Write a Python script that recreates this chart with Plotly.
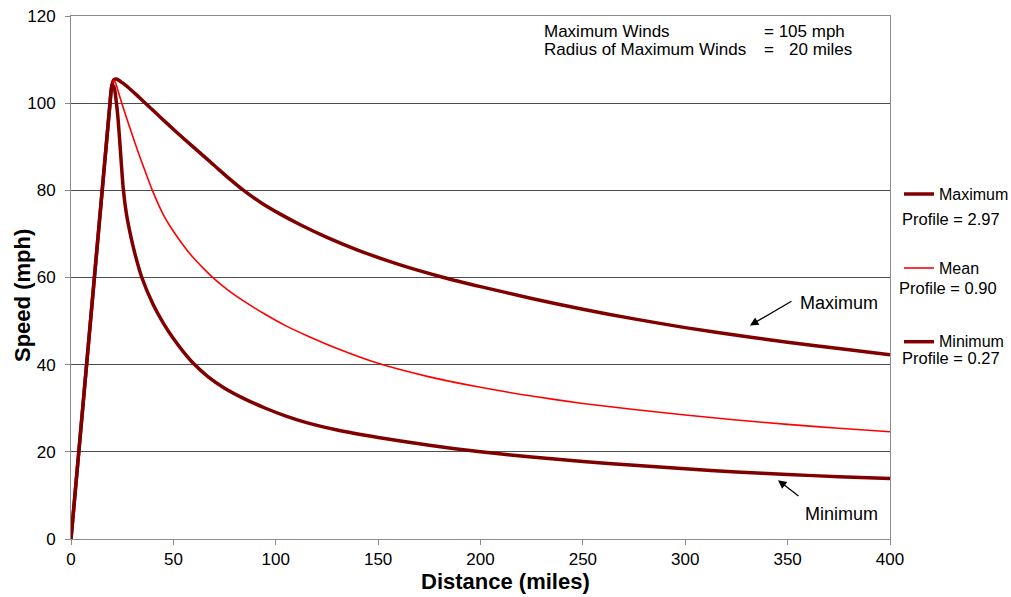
import plotly.graph_objects as go

# ---- data ----
max_dist = [0, 10, 18, 19, 20, 21, 22.5, 25, 28, 32, 37, 42, 47, 55, 63, 70, 77, 84, 93, 102, 112, 125, 140, 160, 182, 200, 225, 250, 275, 300, 332, 350, 375, 400]
max_speed = [0, 52.5, 94.5, 99.7, 104.2, 105.4, 105.5, 104.7, 103.6, 101.9, 99.7, 97.5, 95.3, 91.9, 88.6, 85.7, 82.8, 80.1, 77.1, 74.6, 72.1, 69.2, 66.3, 63.0, 60.0, 57.9, 55.2, 52.7, 50.5, 48.5, 46.3, 45.15, 43.7, 42.3]

mean_dist = [0, 10, 18, 19, 20, 21, 22, 23, 25, 28, 31, 34, 37, 40, 45, 50, 55, 60, 69, 77, 85, 95, 105, 115, 130, 150, 175, 200, 225, 250, 275, 300, 325, 350, 375, 400]
mean_speed = [0, 52.5, 94.5, 99.7, 104.2, 105.2, 104.4, 102.8, 99.7, 95.4, 91.2, 87.2, 83.4, 79.7, 74.5, 70.6, 67.3, 64.4, 60.1, 57.0, 54.4, 51.5, 48.9, 46.7, 43.7, 40.3, 37.2, 34.8, 32.8, 31.1, 29.7, 28.45, 27.3, 26.3, 25.4, 24.6]

min_dist = [0, 10, 18, 19, 20, 21, 22, 23, 24, 25.5, 27, 29, 31.3, 34.6, 40, 45, 50, 55, 60, 67, 75, 85, 95, 105, 115, 130, 150, 175, 200, 225, 250, 275, 300, 325, 350, 375, 400]
min_speed = [0, 52.5, 94.5, 99.7, 104.2, 103.8, 100.8, 96.3, 90.0, 80.5, 74.8, 69.9, 65.3, 60.0, 53.9, 49.6, 46.0, 42.9, 40.2, 37.2, 34.6, 32.1, 30.0, 28.2, 26.7, 25.0, 23.3, 21.5, 20.0, 18.8, 17.8, 16.9, 16.1, 15.4, 14.8, 14.3, 13.9]

x_ticks = [0, 50, 100, 150, 200, 250, 300, 350, 400]
y_ticks = [0, 20, 40, 60, 80, 100, 120]

legend_names = ["Maximum", "Mean", "Minimum"]
legend_profiles = ["Profile = 2.97", "Profile = 0.90", "Profile = 0.27"]

DARK = "#800000"
RED = "#ff0000"
FONT = "Arial, Liberation Sans, sans-serif"

# plot-area pixel geometry
W, H = 1011, 597
L, R, T, B = 71, 890, 16, 539


def px(xp):
    return (xp - L) / (R - L)


def py(yp):
    return (B - yp) / (B - T)


fig = go.Figure()
fig.add_trace(go.Scatter(x=max_dist, y=max_speed, mode="lines", name="Maximum",
                         line=dict(color=DARK, width=3.5, shape="spline", smoothing=0.6)))
fig.add_trace(go.Scatter(x=mean_dist, y=mean_speed, mode="lines", name="Mean",
                         line=dict(color=RED, width=1.6, shape="spline", smoothing=0.6)))
fig.add_trace(go.Scatter(x=min_dist, y=min_speed, mode="lines", name="Minimum",
                         line=dict(color=DARK, width=3.5, shape="spline", smoothing=0.6)))

fig.update_layout(
    width=W, height=H,
    margin=dict(l=L, r=W - R, t=T, b=H - B, pad=0, autoexpand=False),
    paper_bgcolor="white", plot_bgcolor="white",
    showlegend=False,
    font=dict(family=FONT, size=17, color="#000000"),
    xaxis=dict(range=[0, 400], tickvals=x_ticks, ticktext=[str(v) for v in x_ticks],
               showgrid=False, zeroline=False, showline=True, linecolor="#8c8c8c", linewidth=1,
               mirror=True, ticks="outside", ticklen=5, tickcolor="#8c8c8c", automargin=False,
               tickfont=dict(size=17, family=FONT, color="#000")),
    yaxis=dict(range=[0, 120], tickvals=y_ticks, ticktext=[str(v) for v in y_ticks],
               showgrid=True, gridcolor="#4d4d4d", gridwidth=1, zeroline=False,
               showline=True, linecolor="#8c8c8c", linewidth=1, mirror=True, automargin=False,
               ticks="outside", ticklen=5, tickcolor="#8c8c8c",
               tickfont=dict(size=17, family=FONT, color="#000"), ticklabelstandoff=6),
)

ann = []
# axis titles
ann.append(dict(text="<b>Distance (miles)</b>", x=px(505), y=py(581), xref="paper", yref="paper",
                showarrow=False, font=dict(size=22, family=FONT), xanchor="center", yanchor="middle"))
ann.append(dict(text="<b>Speed (mph)</b>", x=px(22), y=py(296), xref="paper", yref="paper",
                showarrow=False, textangle=-90, font=dict(size=22, family=FONT),
                xanchor="center", yanchor="middle"))
# info box
for txt, xx, yy in [("Maximum Winds", 542, 31.5), ("= 105 mph", 762, 31.5),
                    ("Radius of Maximum Winds", 542, 49), ("=", 762, 49), ("20 miles", 787, 49)]:
    ann.append(dict(text=txt, x=px(xx), y=py(yy), xref="paper", yref="paper", showarrow=False,
                    xanchor="left", yanchor="middle", font=dict(size=17, family=FONT)))
# custom legend
leg_y = [194, 268, 341.7]
prof_y = [219, 288, 358]
prof_x = [951, 947.5, 950.5]
leg_col = [DARK, RED, DARK]
leg_w = [3.5, 1.6, 3.5]
shapes = []
for i in range(3):
    shapes.append(dict(type="line", xref="paper", yref="paper", x0=px(904), x1=px(934),
                       y0=py(leg_y[i]), y1=py(leg_y[i]), line=dict(color=leg_col[i], width=leg_w[i])))
    ann.append(dict(text=legend_names[i], x=px(937), y=py(leg_y[i]), xref="paper", yref="paper",
                    showarrow=False, xanchor="left", yanchor="middle", font=dict(size=16, family=FONT)))
    ann.append(dict(text=legend_profiles[i], x=px(prof_x[i]), y=py(prof_y[i]), xref="paper", yref="paper",
                    showarrow=False, xanchor="center", yanchor="middle", font=dict(size=16.5, family=FONT)))
# callouts
ann.append(dict(text="Maximum", x=px(798), y=py(302.5), xref="paper", yref="paper", showarrow=False,
                xanchor="left", yanchor="middle", font=dict(size=18, family=FONT)))
ann.append(dict(text="Minimum", x=px(803), y=py(513.5), xref="paper", yref="paper", showarrow=False,
                xanchor="left", yanchor="middle", font=dict(size=18, family=FONT)))
ann.append(dict(text=" ", x=331.6, y=49.0, xref="x", yref="y", showarrow=True, ax=43, ay=-25,
                arrowhead=2, arrowsize=1.3, arrowwidth=1.3, arrowcolor="#000", font=dict(size=1)))
ann.append(dict(text=" ", x=345.3, y=13.5, xref="x", yref="y", showarrow=True, ax=22, ay=17,
                arrowhead=2, arrowsize=1.3, arrowwidth=1.3, arrowcolor="#000", font=dict(size=1)))

fig.update_layout(annotations=ann, shapes=shapes)
fig.write_html("out.html")
